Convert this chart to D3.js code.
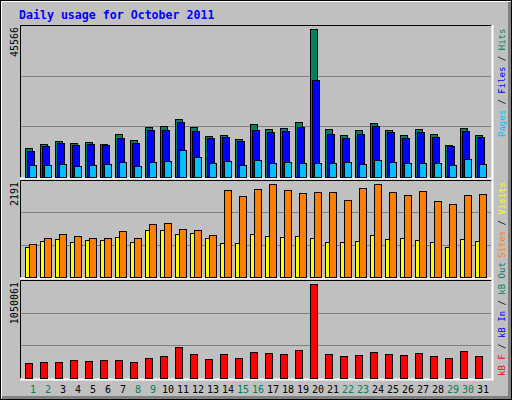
<!DOCTYPE html>
<html><head><meta charset="utf-8">
<script src="https://cdn.jsdelivr.net/npm/d3@7"></script>
<style>body{margin:0;background:#fff}svg{display:block}</style>
</head><body><div id="chart"></div>
<script>
const days = d3.range(1, 32);
const weekend = [1, 2, 8, 9, 15, 16, 22, 23, 29, 30];
const hits = [8930,10160,11080,10470,10780,10160,13240,11390,15390,15700,17860,15390,12620,12930,11700,16320,14780,15090,16930,45566,14780,12930,14470,16630,14470,12930,14780,13240,9850,15090,12930];
const files = [8010,9550,10470,9850,10160,9850,12010,10470,14470,14470,16930,14160,12010,12320,11080,14470,13860,14160,15390,29870,13240,12010,13240,15700,13860,12010,13860,12320,9550,14160,12320];
const pages = [3700,3700,4000,3390,3700,4000,4620,3390,4620,4930,8310,6160,4310,4930,3700,5230,4310,4620,4310,4310,4310,4620,4000,5230,4620,4310,4310,4310,3700,5540,4000];
const sites = [773,915,1009,962,915,915,1080,915,1246,1269,1128,1104,986,2050,1908,2073,2191,2050,1979,2002,2002,1813,2097,2191,2002,1931,2026,1790,1719,1931,1955];
const visits = [702,844,891,820,868,868,938,820,1104,1104,1009,1033,915,797,797,1009,962,938,962,915,820,820,844,986,891,915,868,820,702,891,844];
const kbytes = [163500,174600,174600,196900,185800,196900,196900,174600,219100,241400,341500,263600,208000,263600,219100,285900,274700,263600,308100,1050061,263600,241400,252500,285900,263600,252500,274700,241400,219100,297000,241400];

const W = 512, H = 400, L = 20, R = 491;
const mono = "'DejaVu Sans Mono', monospace";
const svg = d3.select('#chart').append('svg').attr('width', W).attr('height', H);

// frame
svg.append('rect').attr('width', W).attr('height', H).attr('fill', '#c0c0c0');
svg.append('path').attr('d', `M0.5,${H - 0.5}V0.5H${W - 0.5}`).attr('stroke', '#fff').attr('stroke-width', 3).attr('fill', 'none');
svg.append('path').attr('d', `M${W - 2},2V${H - 2}H2`).attr('stroke', '#808080').attr('stroke-width', 4).attr('fill', 'none');
svg.append('rect').attr('x', 0.5).attr('y', 0.5).attr('width', W - 1).attr('height', H - 1).attr('fill', 'none').attr('stroke', '#000');

svg.append('text').attr('x', 19).attr('y', 19).attr('font-family', mono).attr('font-weight', 'bold')
  .attr('font-size', '11.6px').attr('fill', '#0000ff').text('Daily usage for October 2011');

const x = d3.scaleBand().domain(days).range([L + 5, L + 5 + 15 * 31]);

function panel(top, bottom, max, maxPx, label, parts, labelStart) {
  const y = d3.scaleLinear().domain([0, max]).range([bottom, bottom - maxPx]);
  const g = svg.append('g');
  const h = bottom - top;
  [1 / 3, 2 / 3].forEach(f => g.append('line').attr('x1', L).attr('x2', R)
    .attr('y1', Math.round(bottom - h * f) + 0.5).attr('y2', Math.round(bottom - h * f) + 0.5).attr('stroke', '#808080'));
  g.append('path').attr('d', `M${L + 0.5},${bottom + 0.5}V${top + 0.5}H${R + 0.5}`).attr('stroke', '#000').attr('fill', 'none');
  g.append('path').attr('d', `M${L},${bottom + 1.5}H${R + 1.5}V${top}`).attr('stroke', '#fff').attr('stroke-width', 2).attr('fill', 'none');
  g.append('text').attr('transform', `translate(18,${top + 2}) rotate(-90)`).attr('text-anchor', 'end')
    .attr('font-family', mono).attr('font-size', '10px').attr('fill', '#000').text(label);
  const t = g.append('text').attr('transform', `translate(505,${labelStart}) rotate(-90)`)
    .attr('font-family', mono).attr('font-size', '9px');
  parts.forEach(([s, c]) => t.append('tspan').attr('fill', c).text(s));
  return { g, y };
}

function bars(p, data, dx, w, color) {
  p.g.selectAll(null).data(data).enter().append('rect')
    .attr('x', (d, i) => x(days[i]) + dx + 0.5).attr('y', d => Math.round(p.y(d)) + 0.5)
    .attr('width', w).attr('height', d => p.y(0) - Math.round(p.y(d)))
    .attr('fill', color).attr('stroke', '#000');
}

const p1 = panel(25, 177, 45566, 148, '45566',
  [['Pages', '#00c0ff'], [' / ', '#000'], ['Files', '#0000ff'], [' / ', '#000'], ['Hits', '#00805c']], 137);
bars(p1, hits, 0, 7, '#00805c');
bars(p1, files, 2, 7, '#0000ff');
bars(p1, pages, 4, 7, '#00c0ff');

const p2 = panel(180, 277, 2191, 92.7, '2191',
  [['Sites', '#ff8000'], [' / ', '#000'], ['Visits', '#ffff00']], 258);
bars(p2, visits, 0, 4, '#ffff00');
bars(p2, sites, 4, 7, '#ff8000');

const p3 = panel(280, 378, 1050061, 94.4, '1050061',
  [['kB F', '#ff0000'], [' / ', '#000'], ['kB In', '#0000ff'], [' / ', '#000'], ['kB Out', '#00805c']], 376);
bars(p3, kbytes, 0, 7, '#ff0000');

svg.selectAll('.day').data(days).enter().append('text')
  .attr('x', d => x(d) + 8).attr('y', 393).attr('text-anchor', 'middle')
  .attr('font-family', mono).attr('font-size', '10px')
  .attr('fill', d => weekend.includes(d) ? '#00805c' : '#000').text(d => d);
</script></body></html>
